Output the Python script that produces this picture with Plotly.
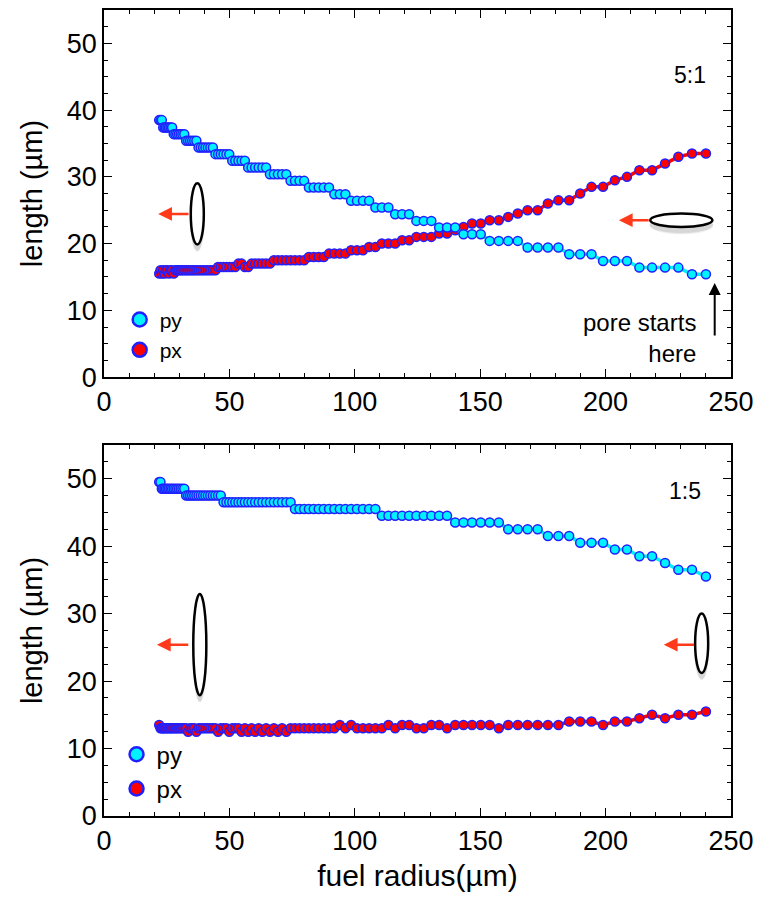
import plotly.graph_objects as go

# fuel radius sample positions (µm), shared by both panels
radius = [
    22.00, 22.52, 23.06, 23.60, 24.16, 24.73, 25.32, 25.92, 26.54, 27.16,
    27.81, 28.47, 29.14, 29.83, 30.54, 31.26, 32.01, 32.76, 33.54, 34.34,
    35.15, 35.98, 36.84, 37.71, 38.60, 39.52, 40.45, 41.41, 42.39, 43.40,
    44.43, 45.48, 46.56, 47.66, 48.79, 49.95, 51.13, 52.35, 53.59, 54.86,
    56.16, 57.49, 58.85, 60.25, 61.68, 63.14, 64.63, 66.17, 67.73, 69.34,
    70.98, 72.67, 74.39, 76.15, 77.96, 79.80, 81.70, 83.63, 85.61, 87.64,
    89.72, 91.85, 94.02, 96.25, 98.53, 100.87, 103.26, 105.71, 108.21, 110.78,
    113.41, 116.09, 118.84, 121.66, 124.55, 127.50, 130.52, 133.62, 136.78, 140.03,
    143.34, 146.74, 150.22, 153.78, 157.43, 161.16, 164.98, 168.89, 172.89, 176.99,
    181.18, 185.48, 189.87, 194.38, 198.98, 203.70, 208.53, 213.47, 218.53, 223.71,
    229.01, 234.44, 240.00,
]

# 5:1 pore
py_51 = [
    38.5, 38.5, 38.5, 37.4, 37.4, 37.4, 37.4, 37.4, 37.4, 37.4,
    36.4, 36.4, 36.4, 36.4, 36.4, 36.4, 36.4, 35.4, 35.4, 35.4,
    35.4, 35.4, 35.4, 34.4, 34.4, 34.4, 34.4, 34.4, 34.4, 34.4,
    33.4, 33.4, 33.4, 33.4, 33.4, 33.4, 32.4, 32.4, 32.4, 32.4,
    32.4, 31.4, 31.4, 31.4, 31.4, 31.4, 31.4, 30.4, 30.4, 30.4,
    30.4, 30.4, 29.4, 29.4, 29.4, 29.4, 28.4, 28.4, 28.4, 28.4,
    28.4, 27.4, 27.4, 27.4, 26.4, 26.4, 26.4, 26.4, 25.4, 25.4,
    25.4, 24.4, 24.4, 24.4, 23.4, 23.4, 23.4, 22.4, 22.4, 22.4,
    21.4, 21.4, 21.4, 20.4, 20.4, 20.4, 20.4, 19.4, 19.4, 19.4,
    19.4, 18.4, 18.4, 18.4, 17.4, 17.4, 17.4, 16.4, 16.4, 16.4,
    16.4, 15.4, 15.4,
]
px_51 = [
    15.5, 16.0, 15.5, 16.0, 15.5, 16.0, 16.0, 15.5, 16.0, 16.0,
    15.5, 16.0, 16.0, 16.0, 16.0, 16.0, 16.0, 16.0, 16.0, 16.0,
    16.0, 16.0, 16.0, 16.0, 16.0, 16.0, 16.0, 16.0, 16.0, 16.0,
    16.0, 16.5, 16.5, 16.5, 16.5, 16.5, 16.5, 16.5, 17.0, 17.0,
    16.5, 16.5, 17.0, 17.0, 17.0, 17.0, 17.0, 17.0, 17.5, 17.5,
    17.5, 17.5, 17.5, 17.5, 17.5, 17.5, 18.0, 18.0, 18.0, 18.0,
    18.5, 18.5, 18.5, 18.5, 19.0, 19.0, 19.0, 19.5, 19.5, 20.0,
    20.0, 20.0, 20.5, 20.5, 21.0, 21.0, 21.0, 21.5, 21.5, 22.0,
    22.5, 23.0, 23.0, 23.5, 23.5, 24.0, 24.5, 25.0, 25.0, 26.0,
    26.5, 26.5, 27.5, 28.5, 28.5, 29.5, 30.0, 31.0, 31.0, 32.0,
    33.0, 33.5, 33.5,
]

# 1:5 pore
py_15 = [
    49.5, 49.5, 48.5, 48.5, 48.5, 48.5, 48.5, 48.5, 48.5, 48.5,
    48.5, 48.5, 48.5, 48.5, 48.5, 48.5, 48.5, 47.5, 47.5, 47.5,
    47.5, 47.5, 47.5, 47.5, 47.5, 47.5, 47.5, 47.5, 47.5, 47.5,
    47.5, 47.5, 47.5, 46.5, 46.5, 46.5, 46.5, 46.5, 46.5, 46.5,
    46.5, 46.5, 46.5, 46.5, 46.5, 46.5, 46.5, 46.5, 46.5, 46.5,
    46.5, 46.5, 46.5, 45.5, 45.5, 45.5, 45.5, 45.5, 45.5, 45.5,
    45.5, 45.5, 45.5, 45.5, 45.5, 45.5, 45.5, 45.5, 45.5, 44.5,
    44.5, 44.5, 44.5, 44.5, 44.5, 44.5, 44.5, 44.5, 44.5, 43.5,
    43.5, 43.5, 43.5, 43.5, 43.5, 42.5, 42.5, 42.5, 42.5, 41.5,
    41.5, 41.5, 40.5, 40.5, 40.5, 39.5, 39.5, 38.5, 38.5, 37.5,
    36.5, 36.5, 35.5,
]
px_15 = [
    13.5, 13.0, 13.0, 13.0, 13.0, 13.0, 13.0, 13.0, 13.0, 13.0,
    13.0, 13.0, 13.0, 13.0, 13.0, 13.0, 13.0, 13.0, 12.5, 13.0,
    13.0, 13.0, 12.5, 13.0, 13.0, 13.0, 13.0, 13.0, 13.0, 13.0,
    13.0, 12.5, 13.0, 13.0, 13.0, 12.5, 13.0, 13.0, 13.0, 12.5,
    13.0, 12.5, 13.0, 12.5, 13.0, 12.5, 13.0, 12.5, 13.0, 12.5,
    13.0, 12.5, 13.0, 13.0, 13.0, 13.0, 13.0, 13.0, 13.0, 13.0,
    13.0, 13.0, 13.5, 13.0, 13.5, 13.0, 13.0, 13.0, 13.0, 13.0,
    13.5, 13.0, 13.5, 13.5, 13.0, 13.0, 13.5, 13.5, 13.0, 13.5,
    13.5, 13.5, 13.5, 13.5, 13.0, 13.5, 13.5, 13.5, 13.5, 13.5,
    13.5, 14.0, 14.0, 14.0, 13.5, 14.0, 14.0, 14.5, 15.0, 14.5,
    15.0, 15.0, 15.5,
]

FONT = "Liberation Sans, Arial, Helvetica, sans-serif"
CYAN = "#00F2FF"
RED = "#FF0000"
BLUE = "#2020FF"
ARROW_RED = "#FF3A1A"

fig = go.Figure()


def add_series(xa, ya, py, px):
    # px first so the py markers sit on top where the curves cross
    fig.add_trace(go.Scatter(
        x=radius, y=px, xaxis=xa, yaxis=ya, mode="lines+markers",
        line=dict(color=RED, width=3.5),
        marker=dict(size=9, color=RED, line=dict(color=BLUE, width=1.5)),
        showlegend=False, hoverinfo="skip"))
    fig.add_trace(go.Scatter(
        x=radius, y=py, xaxis=xa, yaxis=ya, mode="lines+markers",
        line=dict(color=CYAN, width=3.5),
        marker=dict(size=9, color=CYAN, line=dict(color=BLUE, width=1.5)),
        showlegend=False, hoverinfo="skip"))


add_series("x", "y", py_51, px_51)
add_series("x2", "y2", py_15, px_15)

# legend entries (marker only)
for lg in ("legend", "legend2"):
    fig.add_trace(go.Scatter(
        x=[None], y=[None], mode="markers", name="py", legend=lg,
        marker=dict(size=14, color=CYAN, line=dict(color=BLUE, width=2.5))))
    fig.add_trace(go.Scatter(
        x=[None], y=[None], mode="markers", name="px", legend=lg,
        marker=dict(size=14, color=RED, line=dict(color=BLUE, width=2.5))))


def pore(xr, yr, cx, cy, hw, hh):
    # soft drop shadow, then the outlined ellipse
    for i, op in enumerate((0.07, 0.08, 0.10)):
        g = 0.35 * (3 - i)
        fig.add_shape(type="circle", xref=xr, yref=yr,
                      x0=cx - hw - g * 0.4, x1=cx + hw + g * 0.4,
                      y0=cy - hh - 0.8 - g * 0.3, y1=cy + hh - 0.5 + g * 0.1,
                      line=dict(width=0), fillcolor="rgba(80,80,80,1)",
                      opacity=op)
    fig.add_shape(type="circle", xref=xr, yref=yr,
                  x0=cx - hw, x1=cx + hw, y0=cy - hh, y1=cy + hh,
                  line=dict(color="black", width=2.5), fillcolor="white")


def red_arrow(xr, yr, x_tail, x_head, y):
    fig.add_annotation(x=x_head, y=y, ax=x_tail, ay=y, xref=xr, yref=yr,
                       axref=xr, ayref=yr, text="", showarrow=True,
                       arrowhead=2, arrowsize=1.1, arrowwidth=2.5,
                       arrowcolor=ARROW_RED)


# 5:1 panel
pore("x", "y", 37.2, 24.45, 2.6, 4.6)
pore("x", "y", 230.2, 23.5, 12.4, 1.0)
red_arrow("x", "y", 34.3, 21.6, 24.45)
red_arrow("x", "y", 217.8, 205.3, 23.5)
fig.add_annotation(x=243.5, y=14.1, ax=243.5, ay=6.0, xref="x", yref="y",
                   axref="x", ayref="y", text="", showarrow=True,
                   arrowhead=2, arrowsize=1.2, arrowwidth=2,
                   arrowcolor="black")
fig.add_annotation(x=237.0, y=5.8, xref="x", yref="y", text="pore starts<br>here",
                   showarrow=False, xanchor="right", align="right",
                   font=dict(family=FONT, size=24, color="black"))
fig.add_annotation(x=233.5, y=45.2, xref="x", yref="y", text="5:1",
                   showarrow=False, font=dict(family=FONT, size=23, color="black"))

# 1:5 panel
pore("x2", "y2", 38.2, 25.4, 2.6, 7.5)
pore("x2", "y2", 238.3, 25.6, 2.6, 4.4)
red_arrow("x2", "y2", 34.2, 21.1, 25.4)
red_arrow("x2", "y2", 235.9, 223.2, 25.4)
fig.add_annotation(x=231.5, y=48.2, xref="x2", yref="y2", text="1:5",
                   showarrow=False, font=dict(family=FONT, size=23, color="black"))

axis_common = dict(
    showline=True, linecolor="black", linewidth=1.5, mirror="allticks",
    ticks="inside", ticklen=8, tickwidth=1.3, tickcolor="black",
    showgrid=False, zeroline=False,
    tickfont=dict(family=FONT, size=27, color="black"),
)
xaxis_cfg = dict(axis_common, range=[0, 250], dtick=50, tick0=0,
                 minor=dict(dtick=10, ticks="inside", ticklen=4,
                            tickwidth=1, tickcolor="black"))
yaxis_cfg = dict(axis_common, range=[0, 55], dtick=10, tick0=0,
                 minor=dict(dtick=2.5, ticks="inside", ticklen=4,
                            tickwidth=1, tickcolor="black"),
                 title=dict(text="length (µm)", standoff=16,
                            font=dict(family=FONT, size=29, color="black")))

fig.update_layout(
    width=762, height=899,
    margin=dict(l=104, r=29, t=8, b=83),
    paper_bgcolor="white", plot_bgcolor="white",
    font=dict(family=FONT, color="black"),
    xaxis=dict(xaxis_cfg, domain=[0, 1], anchor="y"),
    yaxis=dict(yaxis_cfg, domain=[0.5446, 1], anchor="x"),
    xaxis2=dict(xaxis_cfg, domain=[0, 1], anchor="y2",
                title=dict(text="fuel radius(µm)", standoff=10,
                           font=dict(family=FONT, size=30, color="black"))),
    yaxis2=dict(yaxis_cfg, domain=[0, 0.4604], anchor="x2"),
    legend=dict(x=0.025, y=0.641, xanchor="left", yanchor="top",
                bgcolor="rgba(0,0,0,0)", tracegroupgap=0,
                font=dict(family=FONT, size=21, color="black")),
    legend2=dict(x=0.02, y=0.104, xanchor="left", yanchor="top",
                 bgcolor="rgba(0,0,0,0)", tracegroupgap=0,
                 font=dict(family=FONT, size=24, color="black")),
)

fig.write_html("out.html")
